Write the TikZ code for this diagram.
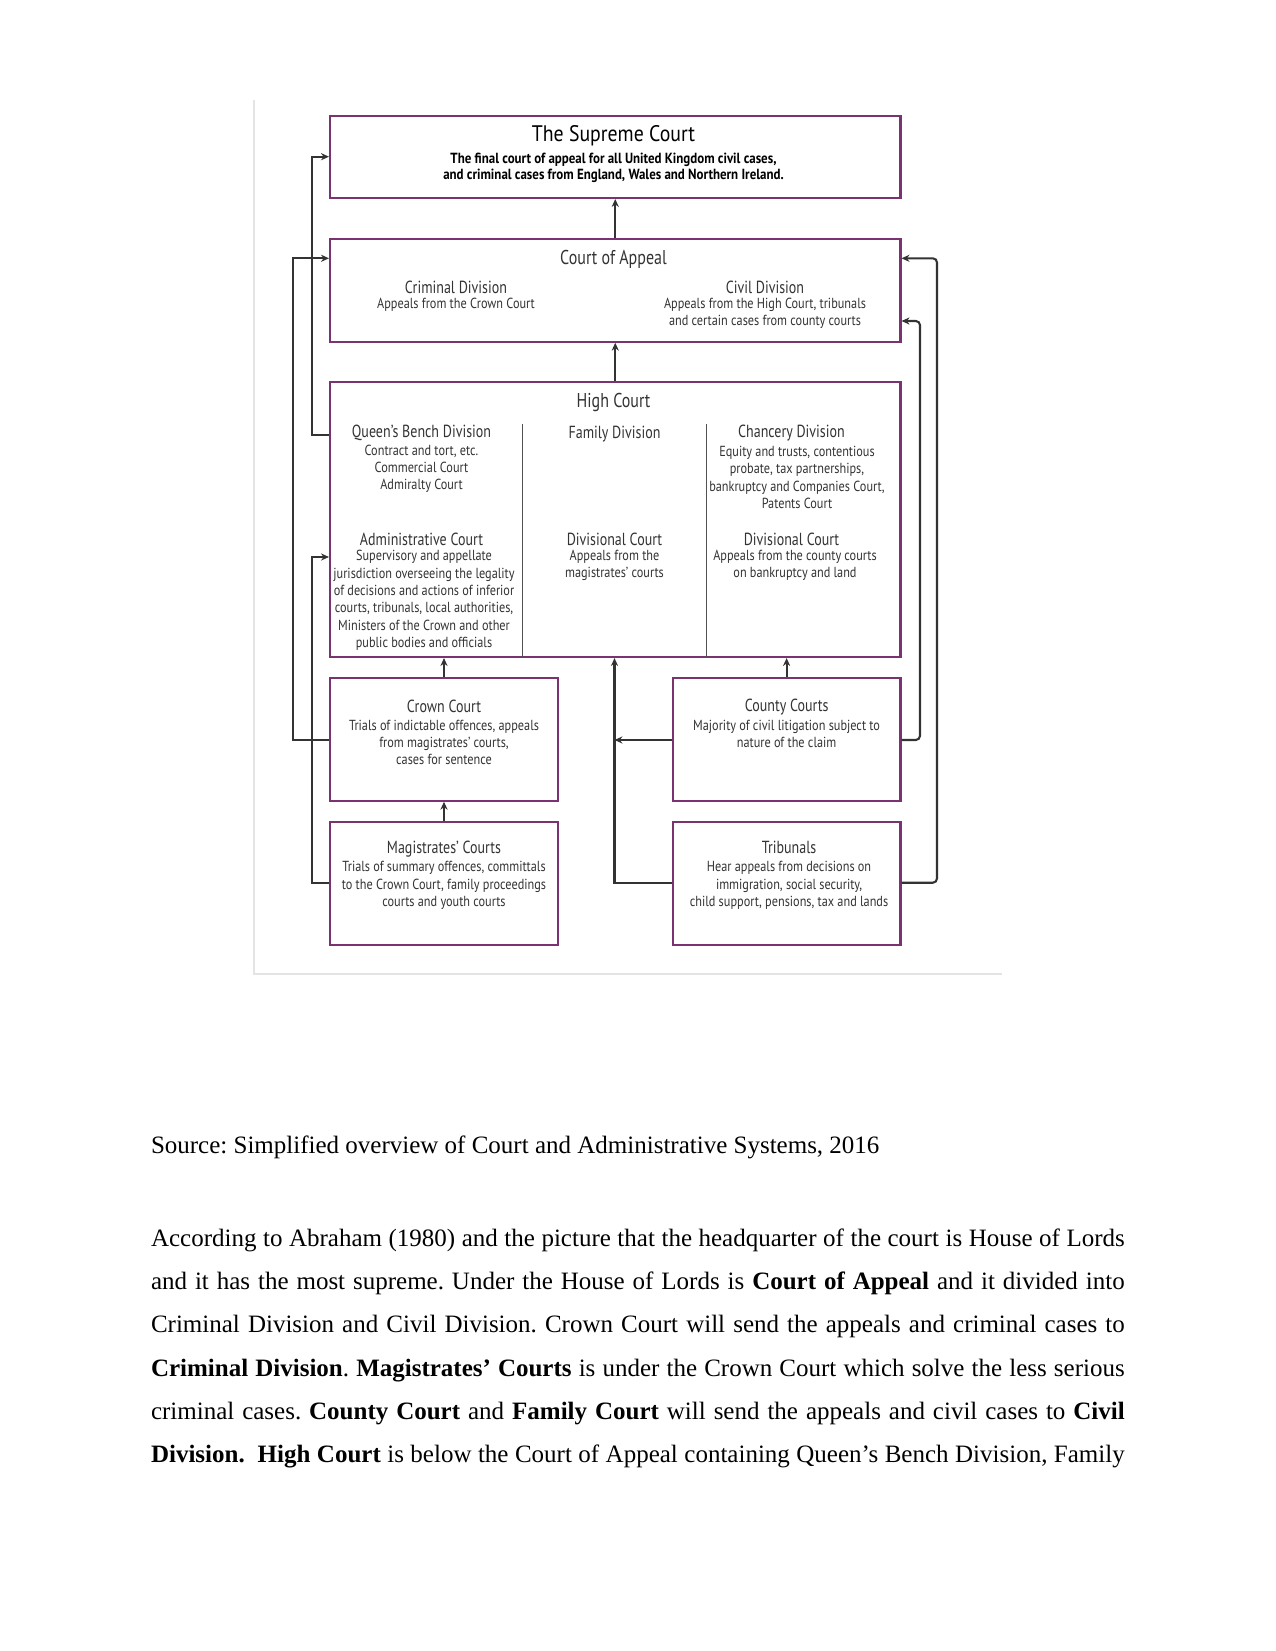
\documentclass[tikz,border=0pt]{standalone}
\usepackage{fontspec}
\setmainfont{Liberation Serif}
\newfontfamily\gill[FakeStretch=0.88]{PT Sans}
\newfontfamily\gillh[FakeStretch=0.8]{PT Sans}
\newfontfamily\gillb[FakeStretch=0.84]{PT Sans}
\usetikzlibrary{arrows.meta,fit}
\definecolor{boxpurple}{HTML}{7A3270}
\definecolor{conncol}{HTML}{333333}
\definecolor{txtcol}{HTML}{333333}
\definecolor{framecol}{HTML}{E4E4E4}
\tikzset{
  box/.style={draw=boxpurple, line width=1pt, inner sep=0pt},
  conn/.style={draw=conncol, line width=1pt, -{Stealth[length=3.8pt,width=3.4pt]}},
  divider/.style={draw=conncol!85, line width=0.6pt},
  ttl/.style={font=\gill\fontsize{10.8}{12}\selectfont, text=black, inner sep=0pt},
  sub/.style={font=\gill\bfseries\fontsize{7.05}{7.7}\selectfont, text=black, align=center, inner sep=0pt},
  bighd/.style={font=\gillh\fontsize{9.6}{11}\selectfont, text=txtcol, inner sep=0pt},
  hd/.style={font=\gillh\fontsize{8.4}{10}\selectfont, text=txtcol, inner sep=0pt},
  bd/.style={font=\gillb\fontsize{7}{8.3}\selectfont, text=txtcol, align=center, inner sep=0pt},
  bodytext/.style={font=\fontsize{12}{14}\selectfont, anchor=base west, inner sep=0pt},
}
\newcommand{\jline}[1]{\makebox[467.4pt][s]{#1}}
\frenchspacing
\begin{document}
\begin{tikzpicture}[x=0.48pt,y=-0.48pt]
\useasboundingbox (0,0) rectangle (1275,1651);
% faint frame of the image
\draw[framecol, line width=0.8pt] (254,100) -- (254,974) -- (1002,974);

% boxes
\node[box, fit={(330,116) (900.5,198)}] (sup) {};
\node[box, fit={(330,239) (900.5,341.7)}] (coa) {};
\node[box, fit={(330,381.7) (900.5,657)}] (hc) {};
\node[box, fit={(330,678) (557.8,800.7)}] (crown) {};
\node[box, fit={(672.7,678) (900.5,800.7)}] (county) {};
\node[box, fit={(330,822.3) (557.8,945)}] (mag) {};
\node[box, fit={(672.7,822.3) (900.5,945)}] (trib) {};

% dividers in High Court
\coordinate (d1) at (522.4,424);
\coordinate (d2) at (706.6,424);
\draw[divider] (d1) -- (d1 |- hc.south);
\draw[divider] (d2) -- (d2 |- hc.south);

% Supreme Court text
\node[ttl] (supT) at (613.5,135.7) {The Supreme Court};
\node[sub] (supB) at (613.5,168) {The final court of appeal for all United Kingdom civil cases,\\and criminal cases from England, Wales and Northern Ireland.};

% Court of Appeal text
\node[bighd] (coaT) at (613.5,259) {Court of Appeal};
\node[hd] (crimT) at (456,287.7) {Criminal Division};
\node[bd] (crimB) at (456,305) {Appeals from the Crown Court};
\node[hd] (civT) at (765,287.7) {Civil Division};
\node[bd] (civB) at (765,313.5) {Appeals from the High Court, tribunals\\and certain cases from county courts};

% High Court text
\node[bighd] (hcT) at (613.5,402) {High Court};
\node[hd] (qbT) at (421.5,433.3) {Queen’s Bench Division};
\node[bd] (qbB) at (421.5,468.9) {Contract and tort, etc.\\Commercial Court\\Admiralty Court};
\node[hd] (famT) at (614.5,434) {Family Division};
\node[hd] (chT) at (791.5,433) {Chancery Division};
\node[bd] (chB) at (797,477.4) {Equity and trusts, contentious\\probate, tax partnerships,\\bankruptcy and Companies Court,\\Patents Court};
\node[hd] (adT) at (421.5,539) {Administrative Court};
\node[bd] (adB) at (424,600.4) {Supervisory and appellate\\jurisdiction overseeing the legality\\of decisions and actions of inferior\\courts, tribunals, local authorities,\\Ministers of the Crown and other\\public bodies and officials};
\node[hd] (dvmT) at (614.5,539) {Divisional Court};
\node[bd] (dvmB) at (614.5,565.4) {Appeals from the\\magistrates’ courts};
\node[hd] (dvrT) at (791.5,539) {Divisional Court};
\node[bd] (dvrB) at (795,565.4) {Appeals from the county courts\\on bankruptcy and land};

% lower boxes text
\node[hd] (crT) at (444,706.7) {Crown Court};
\node[bd] (crB) at (444,742.5) {Trials of indictable offences, appeals\\from magistrates’ courts,\\cases for sentence};
\node[hd] (cyT) at (786.6,706.7) {County Courts};
\node[bd] (cyB) at (786.6,733.9) {Majority of civil litigation subject to\\nature of the claim};
\node[hd] (mgT) at (444,849) {Magistrates’ Courts};
\node[bd] (mgB) at (444,885.5) {Trials of summary offences, committals\\to the Crown Court, family proceedings\\courts and youth courts};
\node[hd] (trT) at (789,847) {Tribunals};
\node[bd] (trB) at (789,885.5) {Hear appeals from decisions on\\immigration, social security,\\child support, pensions, tax and lands};

% connectors
\draw[conn] (coa.north) -- (sup.south);
\draw[conn] (hc.north) -- (coa.south);
\draw[conn] (hc.west |- 0,435) -| (311.6,156.7) -- (sup.west |- 0,156.7);
\draw[conn] (crown.west |- 0,740) -| (292.7,258.3) -- (coa.west |- 0,258.3);
\draw[conn] (mag.west |- 0,882.7) -| (311.6,557) -- (hc.west |- 0,557);
\draw[conn] (crown.north -| 444,0) -- (hc.south -| 444,0);
\draw[conn] (mag.north -| 444,0) -- (crown.south -| 444,0);
\draw[conn] (county.north -| 786.6,0) -- (hc.south -| 786.6,0);
\draw[conn] (trib.west |- 0,882.7) -| (hc.south -| 614.5,0);
\coordinate (midjoin) at (614.5,740);
\draw[conn] (county.west |- 0,740) -- (midjoin);
\draw[conn, rounded corners=2pt] (county.east |- 0,740) -| (920,321) -- (coa.east |- 0,321);
\draw[conn, rounded corners=2pt] (trib.east |- 0,882.7) -| (937,258.3) -- (coa.east |- 0,258.3);

% text below
\node[bodytext] (src) at (150.6,1153) {Source: Simplified overview of Court and Administrative Systems, 2016};
\node[bodytext] (p1) at (150.6,1246.7) {\jline{According to Abraham (1980) and the picture that the headquarter of the court is House of Lords}};
\node[bodytext] (p2) at (150.6,1289.8) {\jline{and it has the most supreme. Under the House of Lords is \textbf{Court of Appeal} and it divided into}};
\node[bodytext] (p3) at (150.6,1332.9) {\jline{Criminal Division and Civil Division. Crown Court will send the appeals and criminal cases to}};
\node[bodytext] (p4) at (150.6,1376) {\jline{\textbf{Criminal Division}. \textbf{Magistrates’ Courts} is under the Crown Court which solve the less serious}};
\node[bodytext] (p5) at (150.6,1419.1) {\jline{criminal cases. \textbf{County Court} and \textbf{Family Court} will send the appeals and civil cases to \textbf{Civil}}};
\node[bodytext] (p6) at (150.6,1462.2) {\jline{\textbf{Division.} \ \textbf{High Court} is below the Court of Appeal containing Queen’s Bench Division, Family}};
\end{tikzpicture}
\end{document}
